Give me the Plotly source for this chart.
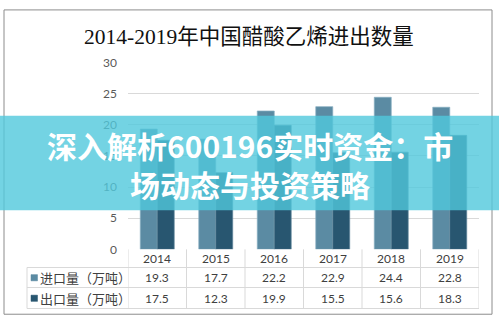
import plotly.graph_objects as go

years = ["2014", "2015", "2016", "2017", "2018", "2019"]
imports = [19.3, 17.7, 22.2, 22.9, 24.4, 22.8]
exports = [17.5, 12.3, 19.9, 15.5, 15.6, 18.3]
series_names = ["进口量（万吨）", "出口量（万吨）"]
title_text = "2014-2019年中国醋酸乙烯进出数量"
banner_text = "深入解析600196实时资金：市<br>场动态与投资策略"

W, H = 499, 326
def py(v):
    return 1 - v / H
def px(v):
    return v / W

imp_color = "#5b8ba3"
exp_color = "#285670"
grid_color = "#d9d9d9"
txt_color = "#404040"
font_fam = "Lato, Noto Sans CJK SC, sans-serif"

fig = go.Figure()
fig.add_trace(go.Bar(x=years, y=imports, name=series_names[0],
                     marker=dict(color=imp_color, line=dict(width=0.7, color="#86adc0"))))
fig.add_trace(go.Bar(x=years, y=exports, name=series_names[1],
                     marker=dict(color=exp_color, line=dict(width=0.7, color="#5f8499"))))

shapes = []
annotations = []

# table horizontal lines
for yy, x0 in [(272, 27), (293, 27), (315, 27)]:
    shapes.append(dict(type="line", xref="paper", yref="paper", x0=px(x0), x1=px(479), y0=py(yy), y1=py(yy),
                       line=dict(color=grid_color, width=1)))
# table vertical lines
for k in range(len(years) + 1):
    shapes.append(dict(type="line", xref="x", yref="paper", x0=-0.5 + k, x1=-0.5 + k, y0=py(253), y1=py(315),
                       line=dict(color=grid_color, width=1)))
shapes.append(dict(type="line", xref="paper", yref="paper", x0=px(27), x1=px(27), y0=py(272), y1=py(315),
                   line=dict(color=grid_color, width=1)))
# outer border
shapes.append(dict(type="rect", xref="paper", yref="paper", x0=px(4), x1=px(492), y0=py(321), y1=py(2),
                   line=dict(color="#8c8c8c", width=1), fillcolor="rgba(0,0,0,0)"))
# legend squares
for yy, c in [(282.5, imp_color), (304, exp_color)]:
    shapes.append(dict(type="rect", xref="paper", yref="paper", x0=px(31), x1=px(37.5), y0=py(yy + 3.5), y1=py(yy - 3),
                       line=dict(color=c, width=0.5), fillcolor=c))
# banner
shapes.append(dict(type="rect", xref="paper", yref="paper", x0=0, x1=1, y0=py(212), y1=py(113),
                   fillcolor="rgba(80,200,220,0.8)", line=dict(width=0), layer="above"))

def ann(x, y, text, size, color, family, xref="paper", xanchor="center"):
    return dict(x=x, y=y, xref=xref, yref="paper", text=text, showarrow=False,
                xanchor=xanchor, yanchor="middle", font=dict(size=size, color=color, family=family))

for i, yv in enumerate(years):
    annotations.append(ann(i, py(262.5), yv, 12, txt_color, font_fam, xref="x"))
    annotations.append(ann(i, py(282.5), f"{imports[i]:.1f}", 12, txt_color, font_fam, xref="x"))
    annotations.append(ann(i, py(304), f"{exports[i]:.1f}", 12, txt_color, font_fam, xref="x"))
for yy, name in [(282.5, series_names[0]), (304, series_names[1])]:
    annotations.append(ann(px(38), py(yy), name, 13, txt_color, "Noto Sans CJK SC", xanchor="left"))

annotations.append(ann(px(248.5), py(30), title_text, 21.5, "#111111", "Liberation Serif, Noto Sans CJK SC"))
annotations.append(ann(px(250), py(164), "<b>" + banner_text + "</b>", 30, "white", "Noto Sans CJK SC"))

fig.update_layout(
    width=W, height=H, margin=dict(l=0, r=0, t=0, b=0),
    paper_bgcolor="white", plot_bgcolor="white",
    barmode="group", bargap=0.42, bargroupgap=0,
    showlegend=False,
    xaxis=dict(domain=[px(128), px(479)], range=[-0.5, 5.5], showticklabels=False, showgrid=False,
               zeroline=False, showline=False, type="category"),
    yaxis=dict(domain=[py(253), py(57)], range=[0, 30], dtick=5, showgrid=True, gridcolor=grid_color,
               gridwidth=1, zeroline=False, showline=False, ticklabelstandoff=10,
               tickfont=dict(size=12, color="#595959", family=font_fam)),
    shapes=shapes, annotations=annotations,
)

fig.write_html("out.html")
